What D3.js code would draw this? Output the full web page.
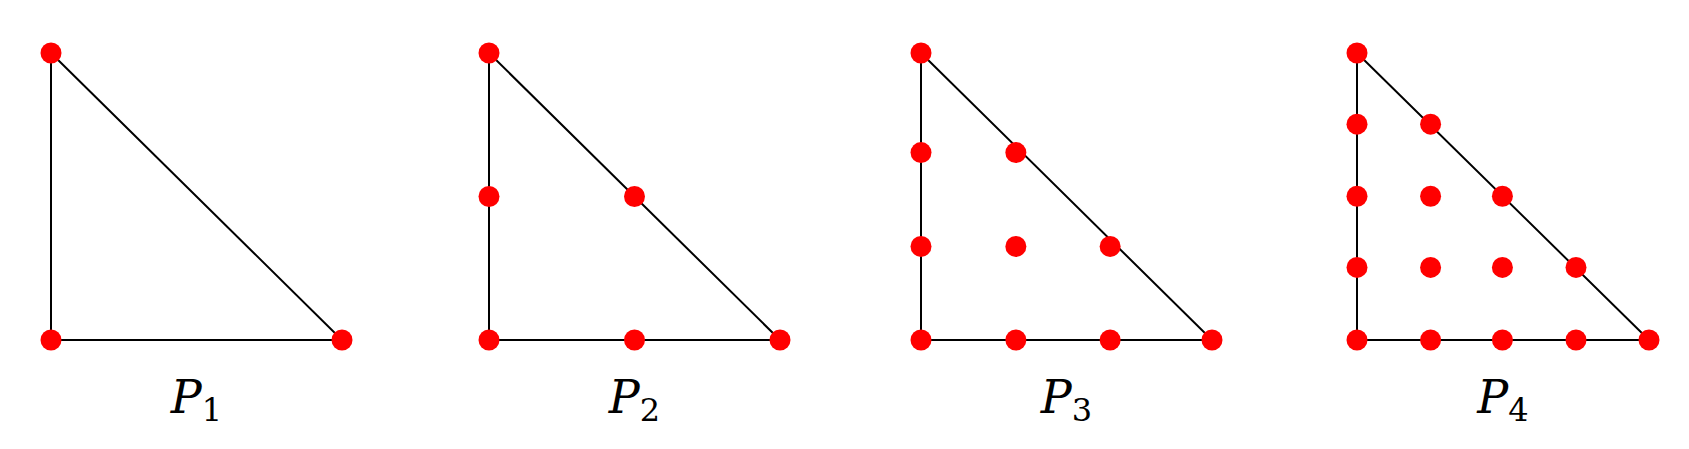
<!DOCTYPE html>
<html lang="en">
<head>
  <meta charset="UTF-8">
  <title></title>
  <style>
    html, body { margin: 0; overflow: hidden; background: #fff; }
    svg { display: block; }
  </style>
</head>
<body>
  <svg width="1689" height="449"></svg>
</body>
<script src="https://d3js.org/d3.v7.min.js"></script>
<script type="text/javascript">
  // node positions (u along base, v up the leg)
  const labels = ['1', '2', '3', '4']
  const nodesP1 = [[0, 0], [1, 0], [0, 1]]
  const nodesP2 = [[0, 0], [0.5, 0], [1, 0], [0, 0.5], [0.5, 0.5], [0, 1]]
  const nodesP3 = [[0, 0], [0.326, 0], [0.65, 0], [1, 0],
                   [0, 0.326], [0.326, 0.326], [0.65, 0.326],
                   [0, 0.653], [0.326, 0.653], [0, 1]]
  const nodesP4 = [[0, 0], [0.252, 0], [0.498, 0], [0.75, 0], [1, 0],
                   [0, 0.253], [0.252, 0.253], [0.498, 0.253], [0.75, 0.253],
                   [0, 0.501], [0.252, 0.501], [0.498, 0.501],
                   [0, 0.752], [0.252, 0.752], [0, 1]]
  const allNodes = [nodesP1, nodesP2, nodesP3, nodesP4]

  // panel placement
  const panelX = [[51, 342], [489, 780], [921, 1212], [1357, 1649]]
  const y = d3.scaleLinear().domain([0, 1]).range([340, 53])

  const svg = d3.select('svg')

  allNodes.forEach((nodes, i) => {
    const x = d3.scaleLinear().domain([0, 1]).range(panelX[i])
    const g = svg.append('g')

    const tri = [[0, 1], [0, 0], [1, 0], [0, 1]]
    g.append('path')
      .attr('d', d3.line().x(d => x(d[0])).y(d => y(d[1]))(tri))
      .attr('fill', 'none')
      .attr('stroke', '#000')
      .attr('stroke-width', 2)

    g.selectAll('circle')
      .data(nodes)
      .enter().append('circle')
        .attr('cx', d => x(d[0]))
        .attr('cy', d => y(d[1]))
        .attr('r', 10.5)
        .attr('fill', '#ff0000')

    const t = g.append('text')
      .attr('x', (panelX[i][0] + panelX[i][1]) / 2)
      .attr('y', 413)
      .attr('text-anchor', 'middle')
      .attr('font-family', 'DejaVu Serif, Liberation Serif, serif')
      .attr('font-size', 46)
    t.append('tspan').attr('font-style', 'italic').text('P')
    t.append('tspan').attr('font-size', 32).attr('dy', 8).text(labels[i])
  })
</script>
</html>
